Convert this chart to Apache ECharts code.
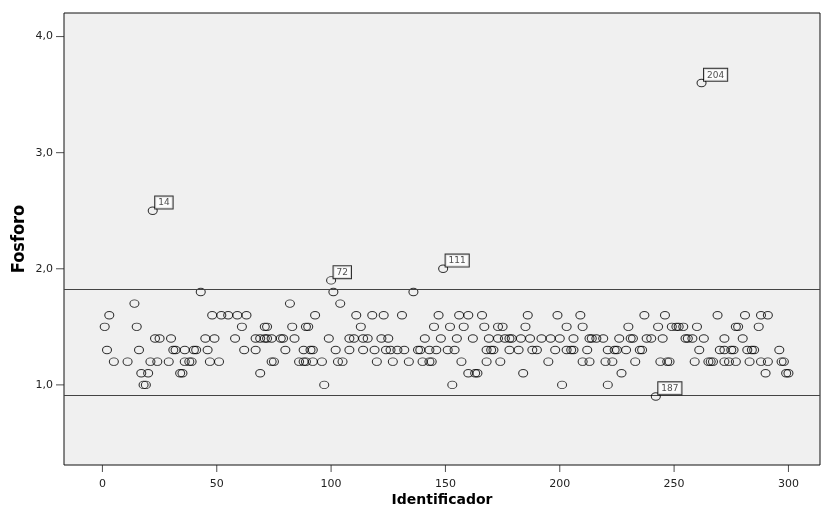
<!DOCTYPE html>
<html>
<head>
<meta charset="utf-8">
<script src="https://cdn.jsdelivr.net/npm/echarts@6/dist/echarts.min.js"></script>
<style>
  html, body { margin: 0; padding: 0; background: #fff; }
  #chart { width: 821px; height: 508px; }
</style>
</head>
<body>
<div id="chart"></div>
<script>
// ---- Data ----
const xTicks = [0, 50, 100, 150, 200, 250, 300];   // x tick labels
const yTicks = [1, 2, 3, 4];                        // y tick labels (1,0 .. 4,0)

// Fosforo values and the Identificador values of the cases at each value
const valueLevels = [1.8, 1.7, 1.6, 1.5, 1.4, 1.3, 1.2, 1.1, 1.0];
const ids_1_8 = [43, 101, 136];
const ids_1_7 = [14, 82, 104];
const ids_1_6 = [3, 48, 52, 55, 59, 63, 93, 111, 118, 123, 131, 147, 156, 160, 166, 186, 199, 209, 237, 246, 269, 281, 288, 291];
const ids_1_5 = [1, 15, 61, 71, 72, 83, 89, 90, 113, 145, 152, 158, 167, 173, 175, 185, 203, 210, 230, 243, 249, 251, 252, 254, 260, 277, 278, 287];
const ids_1_4 = [23, 25, 30, 45, 49, 58, 67, 69, 71, 72, 74, 78, 79, 84, 99, 108, 110, 114, 116, 122, 125, 141, 148, 155, 162, 169, 173, 176, 178, 179, 183, 187, 192, 196, 200, 206, 213, 214, 216, 219, 226, 231, 232, 238, 240, 245, 255, 256, 258, 263, 272, 280];
const ids_1_3 = [2, 16, 31, 32, 36, 40, 41, 46, 62, 67, 80, 88, 91, 92, 102, 108, 114, 119, 124, 126, 129, 132, 138, 139, 143, 146, 151, 154, 168, 170, 171, 178, 182, 188, 190, 198, 203, 205, 206, 212, 221, 224, 225, 229, 235, 236, 261, 270, 272, 275, 276, 282, 284, 285, 296];
const ids_1_2 = [5, 11, 21, 24, 29, 36, 38, 39, 47, 51, 74, 75, 86, 88, 89, 92, 96, 103, 105, 120, 127, 134, 140, 143, 144, 157, 168, 174, 195, 210, 213, 220, 223, 233, 244, 247, 248, 259, 265, 266, 267, 272, 274, 277, 283, 288, 291, 297, 298];
const ids_1_1 = [17, 20, 34, 35, 69, 160, 163, 164, 184, 227, 290, 299, 300];
const ids_1_0 = [18, 19, 97, 153, 201, 221];
const idsByLevel = [ids_1_8, ids_1_7, ids_1_6, ids_1_5, ids_1_4, ids_1_3, ids_1_2, ids_1_1, ids_1_0];

// Labelled (extreme) cases
const outlierIds = [22, 100, 149, 242, 262];
const outlierValues = [2.5, 1.9, 2.0, 0.9, 3.6];
const outlierCases = ['14', '72', '111', '187', '204'];

// Reference lines
const refLines = [1.82, 0.91];

// ---- Layout ----
const W = 821, H = 508;
const G = { left: 64, right: 1, top: 13, bottom: 43 };
const X_MIN = -16.8, X_MAX = 313.8, Y_MIN = 0.31, Y_MAX = 4.203;
const X_TICK_LEN = 7, Y_TICK_LEN = 8;

// ---- Build series data ----
const mainData = [];
valueLevels.forEach((v, i) => idsByLevel[i].forEach(id => mainData.push([id, v])));
const outlierData = outlierIds.map((id, i) => ({ value: [id, outlierValues[i]], name: outlierCases[i] }));
const xTickMarks = xTicks.map(v => [v, 0.5]);   // centred in the tick strip
const yTickMarks = yTicks.map(v => [0.5, v]);

const fmtComma = v => v.toFixed(1).replace('.', ',');
const tickFont = { fontFamily: 'DejaVu Sans', fontSize: 11, color: '#222' };

const chart = echarts.init(document.getElementById('chart'), null, { renderer: 'canvas' });
const circleStyle = { color: 'rgba(0,0,0,0)', borderColor: '#000', borderWidth: 1 };

chart.setOption({
  animation: false,
  backgroundColor: '#fff',
  grid: [
    { left: G.left, right: G.right, top: G.top, bottom: G.bottom,
      containLabel: false, outerBoundsMode: 'none',
      show: true, backgroundColor: '#f0f0f0', borderColor: '#111', borderWidth: 1 },
    // strip under the plot holding the x ticks (same x scale as the plot)
    { left: G.left, right: G.right, top: H - G.bottom, bottom: G.bottom - X_TICK_LEN,
      containLabel: false, outerBoundsMode: 'none', show: false },
    // strip left of the plot holding the y ticks (same y scale as the plot)
    { left: G.left - Y_TICK_LEN, right: W - G.left, top: G.top, bottom: G.bottom,
      containLabel: false, outerBoundsMode: 'none', show: false }
  ],
  xAxis: [
    {
      gridIndex: 0, type: 'value', min: X_MIN, max: X_MAX,
      axisLine: { show: false, onZero: false }, axisTick: { show: false },
      axisLabel: { show: false }, splitLine: { show: false },
      name: 'Identificador', nameLocation: 'middle', nameGap: 28,
      nameTextStyle: { fontFamily: 'DejaVu Sans', fontWeight: 'bold', fontSize: 14, color: '#000' }
    },
    {
      gridIndex: 1, type: 'value', position: 'top', min: X_MIN, max: X_MAX,
      axisLine: { show: false, onZero: false }, splitLine: { show: false },
      axisTick: { show: false },
      axisLabel: Object.assign({ show: true, inside: true, margin: 14, customValues: xTicks,
        showMinLabel: true, showMaxLabel: true }, tickFont)
    },
    { gridIndex: 2, type: 'value', min: 0, max: 1, show: false }
  ],
  yAxis: [
    {
      gridIndex: 0, type: 'value', min: Y_MIN, max: Y_MAX,
      axisLine: { show: false, onZero: false }, axisTick: { show: false },
      axisLabel: { show: false }, splitLine: { show: false },
      name: 'Fosforo', nameLocation: 'middle', nameGap: 36,
      nameTextStyle: { fontFamily: '"Liberation Sans Narrow", "DejaVu Sans Condensed", sans-serif', fontWeight: 'bold', fontSize: 18, color: '#000' }
    },
    { gridIndex: 1, type: 'value', min: 0, max: 1, show: false },
    {
      gridIndex: 2, type: 'value', position: 'right', min: Y_MIN, max: Y_MAX,
      axisLine: { show: false, onZero: false }, splitLine: { show: false },
      axisTick: { show: false },
      axisLabel: Object.assign({ show: true, inside: true, margin: 11, formatter: fmtComma,
        customValues: yTicks, showMinLabel: true, showMaxLabel: true }, tickFont)
    }
  ],
  series: [
    {
      type: 'scatter', xAxisIndex: 0, yAxisIndex: 0,
      data: mainData,
      symbol: 'circle',
      symbolSize: [9, 7.5],
      itemStyle: circleStyle,
      silent: true,
      markLine: {
        silent: true,
        symbol: ['none', 'none'],
        label: { show: false },
        lineStyle: { color: '#444', width: 1, type: 'solid' },
        data: refLines.map(v => ({ yAxis: v }))
      }
    },
    {
      type: 'scatter', xAxisIndex: 0, yAxisIndex: 0,
      data: outlierData,
      symbol: 'circle',
      symbolSize: [9, 7.5],
      itemStyle: circleStyle,
      silent: true,
      z: 5,
      label: {
        show: true,
        formatter: p => p.name,
        position: [7.5, -10],
        align: 'left', verticalAlign: 'top',
        fontFamily: 'DejaVu Sans', fontSize: 9, color: '#222',
        backgroundColor: '#fff', borderColor: '#000', borderWidth: 1,
        padding: [2, 3, 1, 3]
      }
    },
    // axis tick marks, placed through the tick-strip axes
    {
      type: 'scatter', xAxisIndex: 1, yAxisIndex: 1,
      data: xTickMarks, symbol: 'rect', symbolSize: [1, X_TICK_LEN],
      itemStyle: { color: '#222' }, silent: true
    },
    {
      type: 'scatter', xAxisIndex: 2, yAxisIndex: 2,
      data: yTickMarks, symbol: 'rect', symbolSize: [Y_TICK_LEN, 1],
      itemStyle: { color: '#222' }, silent: true
    }
  ]
});
</script>
</body>
</html>
